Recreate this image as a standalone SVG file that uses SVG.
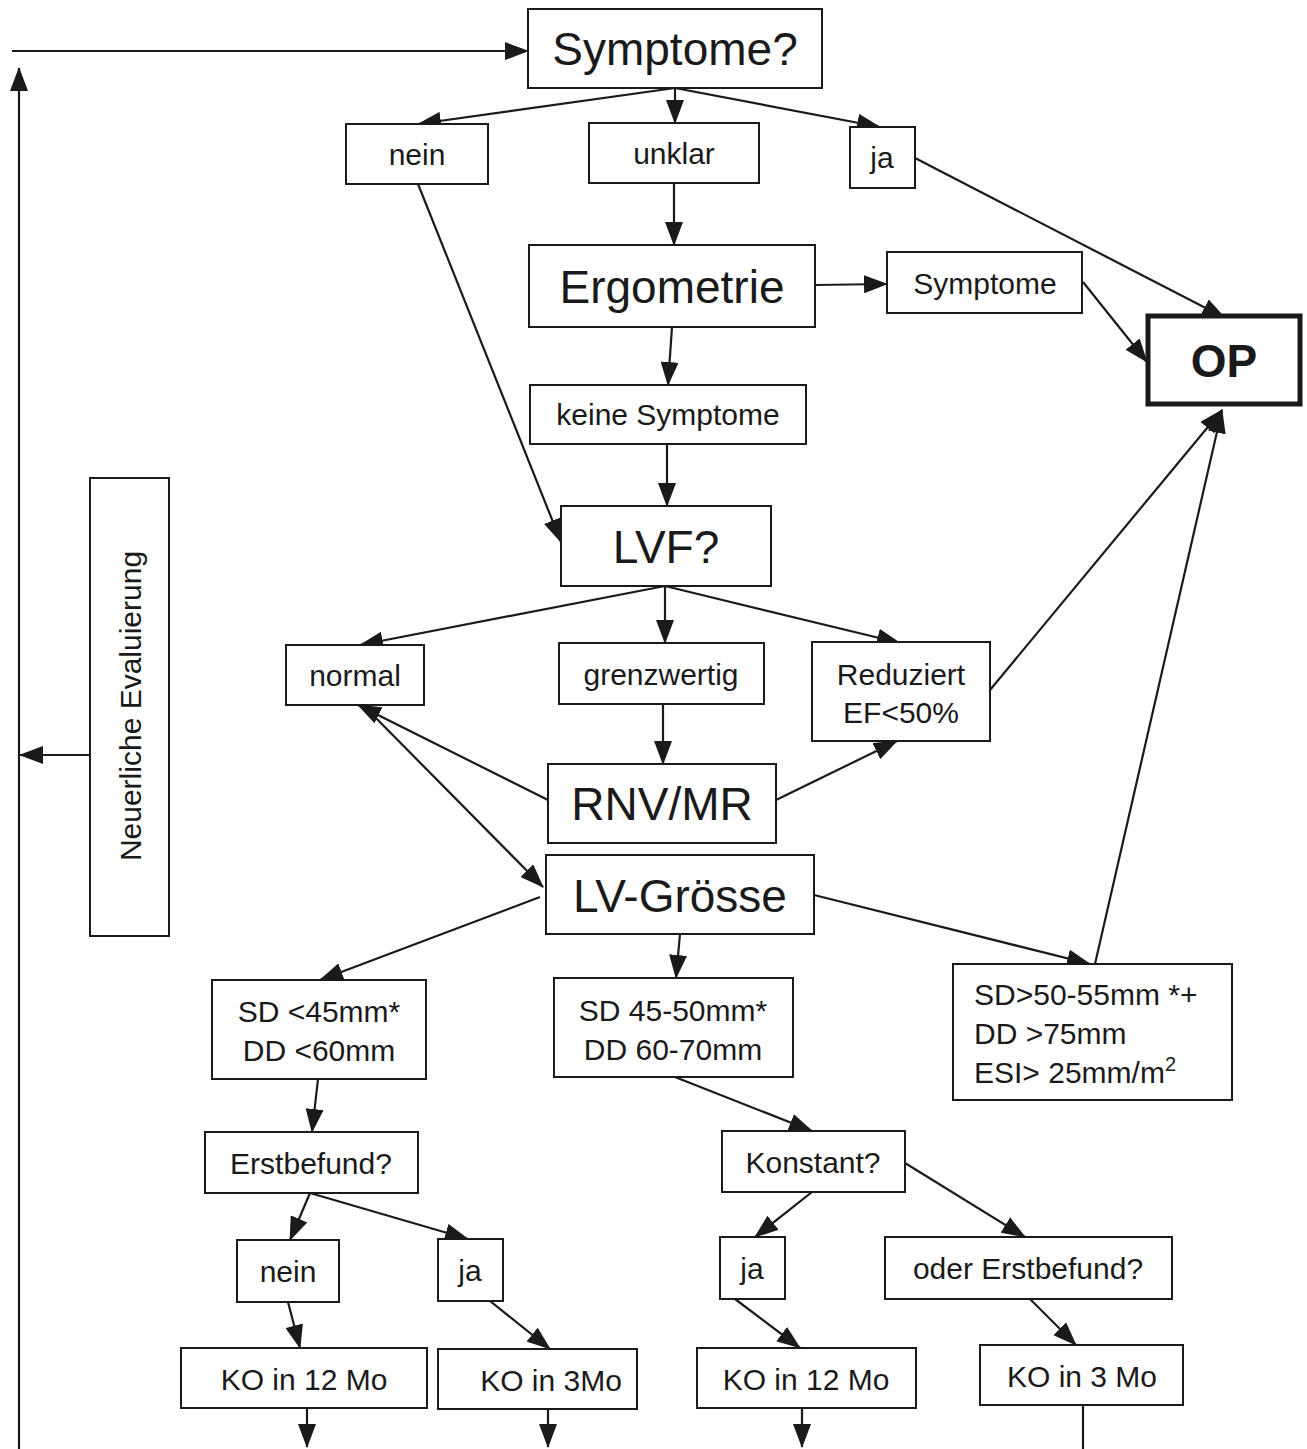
<svg xmlns="http://www.w3.org/2000/svg" width="1307" height="1449" viewBox="0 0 1307 1449">
<defs>
<marker id="ah" markerUnits="userSpaceOnUse" markerWidth="24" markerHeight="18" refX="23" refY="9" orient="auto">
<path d="M0,0 L24,9 L0,18 z" fill="#1a1a1a"/>
</marker>
<style>
rect{fill:#fff;stroke:#1a1a1a;stroke-width:2}
text{font-family:"Liberation Sans",Arial,sans-serif;fill:#1a1a1a;text-anchor:middle}
.s{font-size:30px}
.l{font-size:46px}
.c line{stroke:#1a1a1a;stroke-width:2.2;fill:none}
.a{marker-end:url(#ah)}
</style>
</defs>
<rect x="0" y="0" width="1307" height="1449" style="stroke:none"/>
<g class="c">
<line class="a" x1="12" y1="51" x2="528" y2="51"/>
<line class="a" x1="19" y1="1449" x2="19" y2="68"/>
<line class="a" x1="90" y1="755" x2="20" y2="755"/>
<line class="a" x1="675" y1="88" x2="418" y2="124"/>
<line class="a" x1="675" y1="88" x2="675" y2="123"/>
<line class="a" x1="675" y1="88" x2="880" y2="127"/>
<line class="a" x1="674" y1="183" x2="674" y2="245"/>
<line class="a" x1="815" y1="285" x2="887" y2="284"/>
<line class="a" x1="672" y1="327" x2="668" y2="385"/>
<line class="a" x1="667" y1="444" x2="667" y2="506"/>
<line class="a" x1="418" y1="184" x2="561" y2="542"/>
<line class="a" x1="915" y1="158" x2="1225" y2="318"/>
<line class="a" x1="1083" y1="282" x2="1147" y2="362"/>
<line class="a" x1="665" y1="586" x2="360" y2="645"/>
<line class="a" x1="665" y1="586" x2="665" y2="643"/>
<line class="a" x1="665" y1="586" x2="900" y2="643"/>
<line class="a" x1="663" y1="704" x2="663" y2="764"/>
<line class="a" x1="548" y1="800" x2="358" y2="705"/>
<line class="a" x1="368" y1="710" x2="543" y2="887"/>
<line class="a" x1="776" y1="800" x2="897" y2="741"/>
<line class="a" x1="990" y1="690" x2="1222" y2="410"/>
<line class="a" x1="1095" y1="964" x2="1222" y2="410"/>
<line class="a" x1="540" y1="897" x2="320" y2="980"/>
<line class="a" x1="680" y1="934" x2="676" y2="978"/>
<line class="a" x1="814" y1="895" x2="1090" y2="964"/>
<line class="a" x1="318" y1="1079" x2="312" y2="1132"/>
<line class="a" x1="675" y1="1077" x2="812" y2="1131"/>
<line class="a" x1="310" y1="1193" x2="290" y2="1240"/>
<line class="a" x1="310" y1="1193" x2="468" y2="1239"/>
<line class="a" x1="812" y1="1192" x2="755" y2="1237"/>
<line class="a" x1="905" y1="1163" x2="1025" y2="1237"/>
<line class="a" x1="288" y1="1302" x2="300" y2="1348"/>
<line class="a" x1="490" y1="1301" x2="550" y2="1349"/>
<line class="a" x1="735" y1="1299" x2="800" y2="1348"/>
<line class="a" x1="1030" y1="1299" x2="1076" y2="1345"/>
<line class="a" x1="307" y1="1408" x2="307" y2="1447"/>
<line class="a" x1="548" y1="1409" x2="548" y2="1447"/>
<line class="a" x1="802" y1="1408" x2="802" y2="1447"/>
<line x1="1083" y1="1405" x2="1083" y2="1449"/>
</g>
<g id="symptome_q"><rect x="528" y="9" width="294" height="79"/><text class="l" x="675" y="65">Symptome?</text></g>
<g id="nein1"><rect x="346" y="124" width="142" height="60"/><text class="s" x="417" y="165">nein</text></g>
<g id="unklar"><rect x="589" y="123" width="170" height="60"/><text class="s" x="674" y="164">unklar</text></g>
<g id="ja1"><rect x="850" y="127" width="65" height="61"/><text class="s" x="882" y="168">ja</text></g>
<g id="ergometrie"><rect x="529" y="245" width="286" height="82"/><text class="l" x="672" y="303">Ergometrie</text></g>
<g id="symptome"><rect x="887" y="252" width="195" height="61"/><text class="s" x="985" y="294">Symptome</text></g>
<g id="op"><rect x="1148" y="316" width="152" height="88" style="stroke-width:5"/><text x="1224" y="377" style="font-size:46px;font-weight:bold">OP</text></g>
<g id="keine"><rect x="530" y="385" width="276" height="59"/><text class="s" x="668" y="425">keine Symptome</text></g>
<g id="lvf"><rect x="561" y="506" width="210" height="80"/><text class="l" x="666" y="563">LVF?</text></g>
<g id="normal"><rect x="286" y="645" width="138" height="60"/><text class="s" x="355" y="686">normal</text></g>
<g id="grenz"><rect x="559" y="643" width="205" height="61"/><text class="s" x="661" y="685">grenzwertig</text></g>
<g id="reduziert"><rect x="812" y="642" width="178" height="99"/><text class="s" x="901" y="685">Reduziert</text><text class="s" x="901" y="723">EF&lt;50%</text></g>
<g id="rnv"><rect x="548" y="764" width="228" height="79"/><text class="l" x="662" y="820">RNV/MR</text></g>
<g id="lvg"><rect x="546" y="855" width="268" height="79"/><text class="l" x="680" y="912">LV-Grösse</text></g>
<g id="sd45"><rect x="212" y="980" width="214" height="99"/><text class="s" x="319" y="1022">SD &lt;45mm*</text><text class="s" x="319" y="1061">DD &lt;60mm</text></g>
<g id="sd4550"><rect x="554" y="978" width="239" height="99"/><text class="s" x="673" y="1021">SD 45-50mm*</text><text class="s" x="673" y="1060">DD 60-70mm</text></g>
<g id="sd50"><rect x="953" y="964" width="279" height="136"/><text class="s" x="974" y="1005" style="text-anchor:start">SD&gt;50-55mm *+</text><text class="s" x="974" y="1044" style="text-anchor:start">DD &gt;75mm</text><text class="s" x="974" y="1083" style="text-anchor:start">ESI&gt; 25mm/m<tspan dy="-12" style="font-size:20px">2</tspan></text></g>
<g id="erst"><rect x="205" y="1132" width="213" height="61"/><text class="s" x="311" y="1174">Erstbefund?</text></g>
<g id="konstant"><rect x="722" y="1131" width="183" height="61"/><text class="s" x="813" y="1173">Konstant?</text></g>
<g id="nein2"><rect x="237" y="1240" width="102" height="62"/><text class="s" x="288" y="1282">nein</text></g>
<g id="ja2"><rect x="438" y="1239" width="65" height="62"/><text class="s" x="470" y="1281">ja</text></g>
<g id="ja3"><rect x="720" y="1237" width="65" height="62"/><text class="s" x="752" y="1279">ja</text></g>
<g id="oder"><rect x="885" y="1237" width="287" height="62"/><text class="s" x="1028" y="1279">oder Erstbefund?</text></g>
<g id="ko1"><rect x="181" y="1348" width="246" height="60"/><text class="s" x="304" y="1390">KO in 12 Mo</text></g>
<g id="ko2"><rect x="438" y="1349" width="199" height="60"/><text class="s" x="551" y="1391">KO in 3Mo</text></g>
<g id="ko3"><rect x="697" y="1348" width="219" height="60"/><text class="s" x="806" y="1390">KO in 12 Mo</text></g>
<g id="ko4"><rect x="980" y="1345" width="203" height="60"/><text class="s" x="1082" y="1387">KO in 3 Mo</text></g>
<g id="neuerliche"><rect x="90" y="478" width="79" height="458"/><text class="s" transform="translate(141,706) rotate(-90)">Neuerliche Evaluierung</text></g>
</svg>
